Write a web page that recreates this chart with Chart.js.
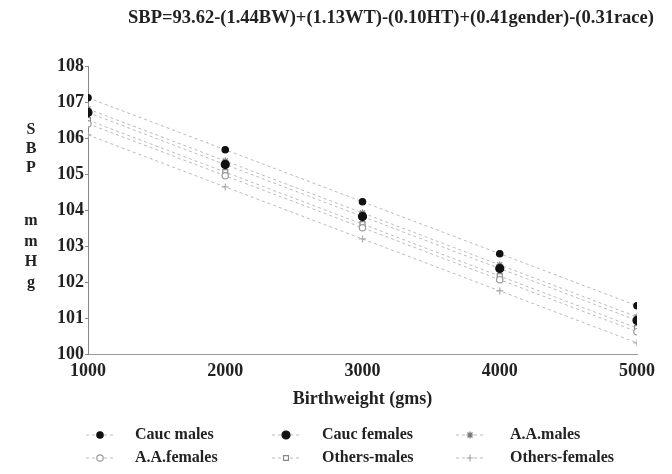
<!DOCTYPE html>
<html><head><meta charset="utf-8">
<script src="https://cdn.jsdelivr.net/npm/chart.js@4/dist/chart.umd.min.js"></script>
<style>html,body{margin:0;padding:0;background:#fff}#wrap{width:672px;height:474px;position:relative}</style>
</head><body><div id="wrap"><canvas id="c" width="672" height="474"></canvas></div>
<script>
const titleText = 'SBP=93.62-(1.44BW)+(1.13WT)-(0.10HT)+(0.41gender)-(0.31race)';
const xTitle = 'Birthweight (gms)';
const yTitleLetters = ['S','B','P','','m','m','H','g'];
const birthweights = [1000, 2000, 3000, 4000, 5000];
const caucMales     = [107.12, 105.68, 104.24, 102.80, 101.36];
const caucFemales   = [106.71, 105.27, 103.83, 102.39, 100.95];
const aaMales       = [106.81, 105.37, 103.93, 102.49, 101.05];
const aaFemales     = [106.40, 104.96, 103.52, 102.08, 100.64];
const othersMales   = [106.50, 105.06, 103.62, 102.18, 100.74];
const othersFemales = [106.09, 104.65, 103.21, 101.77, 100.33];
const seriesNames = ['Cauc males','Cauc females','A.A.males','A.A.females','Others-males','Others-females'];
const yTicks = [100,101,102,103,104,105,106,107,108];

const SERIF = '"Liberation Serif", "DejaVu Serif", serif';
const styles = [
  {pointStyle:'circle', radius:3.2, bg:'#111', bc:'#111'},
  {pointStyle:'circle', radius:4, bg:'#111', bc:'#111'},
  {pointStyle:'star', radius:3.5, bg:'#777', bc:'#777'},
  {pointStyle:'circle', radius:3.2, bg:'#fff', bc:'#999'},
  {pointStyle:'rect', radius:3.5, bg:'#fff', bc:'#888'},
  {pointStyle:'cross', radius:3.5, bg:'#aaa', bc:'#aaa'}
];
const allSeries = [caucMales, caucFemales, aaMales, aaFemales, othersMales, othersFemales];
const datasets = allSeries.map((vals,i)=>({
  label: seriesNames[i],
  data: birthweights.map((x,j)=>({x:x, y:vals[j]})),
  borderColor:'#bbb', borderWidth:1, borderDash:[3,3],
  pointStyle: styles[i].pointStyle, pointRadius: styles[i].radius,
  pointBackgroundColor: styles[i].bg, pointBorderColor: styles[i].bc, pointBorderWidth:1.2,
  fill:false, tension:0
}));

const extras = {
  id:'extras',
  afterDraw(chart){
    const ctx = chart.ctx;
    ctx.save();
    // chart title
    ctx.font = 'bold 18.5px ' + SERIF;
    ctx.fillStyle = '#222';
    ctx.textAlign = 'center';
    ctx.textBaseline = 'middle';
    ctx.fillText(titleText, 391, 18);
    // vertical y-axis title letters
    ctx.font = 'bold 16px ' + SERIF;
    const yPos = [130,149,168,0,221,242,262,283];
    yTitleLetters.forEach((ch,i)=>{ if(ch) ctx.fillText(ch, 31, yPos[i]); });
    // legend
    const cols = [{m:100,t:135},{m:286,t:322},{m:470,t:510}];
    const rows = [435,458];
    chart.data.datasets.forEach((ds,i)=>{
      const c = cols[i%3], y = rows[Math.floor(i/3)];
      ctx.save();
      ctx.strokeStyle = '#bbb'; ctx.lineWidth = 1; ctx.setLineDash([3,3]);
      ctx.beginPath(); ctx.moveTo(c.m-14,y); ctx.lineTo(c.m+14,y); ctx.stroke();
      ctx.restore();
      ctx.fillStyle = ds.pointBackgroundColor; ctx.strokeStyle = ds.pointBorderColor; ctx.lineWidth = 1.2;
      Chart.helpers.drawPoint(ctx, {pointStyle: ds.pointStyle, radius: ds.pointRadius, borderWidth:1.2, rotation:0}, c.m, y);
      ctx.fillStyle = '#222';
      ctx.font = 'bold 16px ' + SERIF;
      ctx.textAlign = 'left';
      ctx.fillText(ds.label, c.t, y);
    });
    ctx.restore();
  }
};

new Chart(document.getElementById('c'), {
  type:'line',
  data:{datasets},
  plugins:[extras],
  options:{
    responsive:false, animation:false,
    layout:{padding:{left:56, right:35, top:66, bottom:64}},
    plugins:{ legend:{display:false}, tooltip:{enabled:false}, title:{display:false} },
    scales:{
      x:{type:'linear', min:1000, max:5000,
        afterBuildTicks(axis){ axis.ticks = birthweights.map(v=>({value:v})); },
        ticks:{color:'#222', font:{family:SERIF, size:18, weight:'bold'}, padding:6, callback:v=>String(v)},
        grid:{drawOnChartArea:false, drawTicks:false},
        border:{display:true, color:'#999', width:1, dash:[2,2]},
        title:{display:true, text:xTitle, color:'#222', font:{family:SERIF, size:18, weight:'bold'}, padding:{top:0, bottom:0}}
      },
      y:{type:'linear', min:100, max:108,
        afterBuildTicks(axis){ axis.ticks = yTicks.map(v=>({value:v})); },
        ticks:{color:'#222', font:{family:SERIF, size:18, weight:'bold'}, padding:1, callback:v=>String(v)},
        grid:{drawOnChartArea:false, drawTicks:true, tickLength:3, color:'#888'},
        border:{display:true, color:'#888', width:1}
      }
    }
  }
});
</script></body></html>
